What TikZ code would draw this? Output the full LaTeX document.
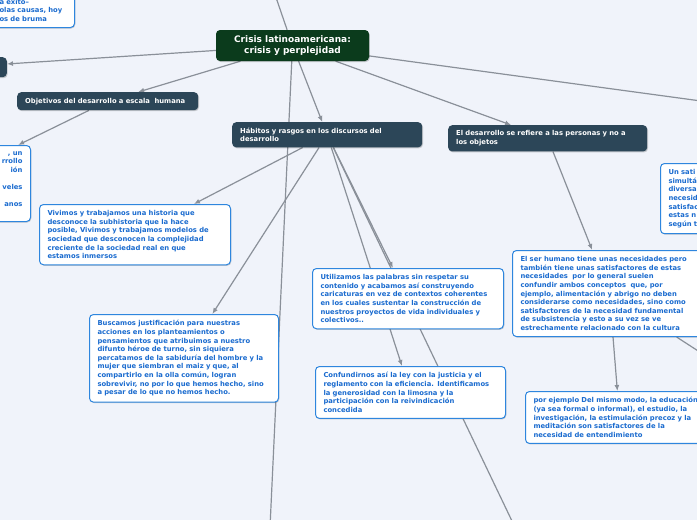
\documentclass[tikz,border=0pt]{standalone}
\usepackage{fontspec}
\setmainfont{DejaVu Sans}
\usetikzlibrary{arrows.meta,backgrounds,shadows}

\definecolor{bgcolor}{HTML}{F0F3FA}
\definecolor{rootgreen}{HTML}{0B3B1C}
\definecolor{topicslate}{HTML}{2C4658}
\definecolor{noteblue}{HTML}{2E86DE}
\definecolor{notetext}{HTML}{1A6BCF}
\definecolor{linkgray}{HTML}{8A9099}

\begin{document}
\begin{tikzpicture}[x=1pt, y=-1pt,
    every node/.style={font=\bfseries\fontsize{6.8}{8.6}\selectfont, align=left, rounded corners=4pt, inner xsep=8pt, inner ysep=6pt},
    shade/.style={drop shadow={shadow xshift=0.8pt, shadow yshift=-1pt, opacity=0.18, fill=black}},
    root/.style={shade, fill=rootgreen, text=white, align=center, font=\bfseries\fontsize{9}{11}\selectfont, minimum width=153pt, minimum height=31pt, inner sep=0pt},
    topic/.style={shade, fill=topicslate, text=white, inner ysep=5.5pt, minimum height=18pt},
    note/.style={shade, draw=noteblue, line width=1pt, fill=white, text=notetext},
    arrow/.style={-{Latex[length=6pt,width=5pt]}, draw=linkgray, line width=1.2pt}
]
\useasboundingbox (0,0) rectangle (697,520);
\clip (0,0) rectangle (697,520);

% Central topic
\node[root] (root) at (292.5,45.5) {Crisis latinoamericana:\\crisis y perplejidad};

% Main branches
\node[topic, anchor=north east, minimum width=100pt, minimum height=20pt] (stub) at (7,57) {};
\node[topic, anchor=north west, text width=165pt] (objetivos) at (17,92) {Objetivos del desarrollo a escala \ humana};
\node[topic, anchor=north west, text width=174pt] (habitos) at (232,122) {Hábitos y rasgos en los discursos del\\desarrollo};
\node[topic, anchor=north west, text width=183pt] (personas) at (448,125) {El desarrollo se refiere a las personas y no a\\los objetos};

% Notes
\node[note, anchor=south east, text width=67pt] (topnote) at (75,28) {a éxito–\\olas causas, hoy\\os de bruma};
\node[note, anchor=north east, minimum width=182pt, text width=166pt, align=right] (leftnote) at (31,145) {, un\\rrollo\\ión\\\mbox{}\\veles\\\mbox{}\\anos\\\mbox{}};
\node[note, anchor=north west, text width=175pt] (vivimos) at (39,204) {Vivimos y trabajamos una historia que\\desconoce la subhistoria que la hace\\posible, Vivimos y trabajamos modelos de\\sociedad que desconocen la complejidad\\creciente de la sociedad real en que\\estamos inmersos};
\node[note, anchor=north west, text width=173pt] (buscamos) at (89,314) {Buscamos justificación para nuestras\\acciones en los planteamientos o\\pensamientos que atribuimos a nuestro\\difunto héroe de turno, sin siquiera\\percatamos de la sabiduría del hombre y la\\mujer que siembran el maiz y que, al\\compartirlo en la olla común, logran\\sobrevivir, no por lo que hemos hecho, sino\\a pesar de lo que no hemos hecho.};
\node[note, anchor=north west, text width=175pt] (utilizamos) at (312,268) {Utilizamos las palabras sin respetar su\\contenido y acabamos así construyendo\\caricaturas en vez de contextos coherentes\\en los cuales sustentar la construcción de\\nuestros proyectos de vida individuales y\\colectivos..};
\node[note, anchor=north west, text width=174pt] (confundirnos) at (315,366) {Confundirnos así la ley con la justicia y el\\reglamento con la eficiencia. Identificamos\\la generosidad con la limosna y la\\participación con la reivindicación\\concedida};
\node[note, anchor=north west, text width=178pt] (serhumano) at (512,250) {El ser humano tiene unas necesidades pero\\también tiene unas satisfactores de estas\\necesidades \ por lo general suelen\\confundir ambos conceptos \ que, por\\ejemplo, alimentación y abrigo no deben\\considerarse como necesidades, sino como\\satisfactores de la necesidad fundamental\\de subsistencia y esto a su vez se ve\\estrechamente relacionado con la cultura};
\node[note, anchor=north west, text width=172pt] (ejemplo) at (525,391) {por ejemplo Del mismo modo, la educación\\(ya sea formal o informal), el estudio, la\\investigación, la estimulación precoz y la\\meditación son satisfactores de la\\necesidad de entendimiento};
\node[note, anchor=north west, text width=120pt] (satisfactor) at (660,163) {Un sati\\simultá\\diversa\\necesid\\satisfac\\estas n\\según t};

% Branches that leave the picture
\coordinate (upper) at (270,-20);
\coordinate (lower) at (268,570);
\coordinate (farright) at (760,109);
\coordinate (belowhabitos) at (545,590);
\coordinate (belowright) at (760,391);

% Draw arrows behind the nodes
\begin{scope}[on background layer]
\fill[bgcolor] (0,0) rectangle (697,520);
\draw[arrow] (root) -- (upper);
\draw[arrow] (root) -- (lower);
\draw[arrow] (root) -- (farright);
\draw[arrow] (root) -- (stub);
\draw[arrow] (root) -- (objetivos);
\draw[arrow] (root) -- (habitos);
\draw[arrow] (root) -- (personas);
\draw[arrow] (objetivos) -- (leftnote);
\draw[arrow] (habitos) -- (vivimos);
\draw[arrow] (habitos) -- (buscamos);
\draw[arrow] (habitos) -- (utilizamos);
\draw[arrow] (habitos) -- (confundirnos);
\draw[arrow] (habitos) -- (belowhabitos);
\draw[arrow] (personas) -- (serhumano);
\draw[arrow] (serhumano) -- (ejemplo);
\draw[arrow] (serhumano) -- (belowright);
\end{scope}

\end{tikzpicture}
\end{document}
